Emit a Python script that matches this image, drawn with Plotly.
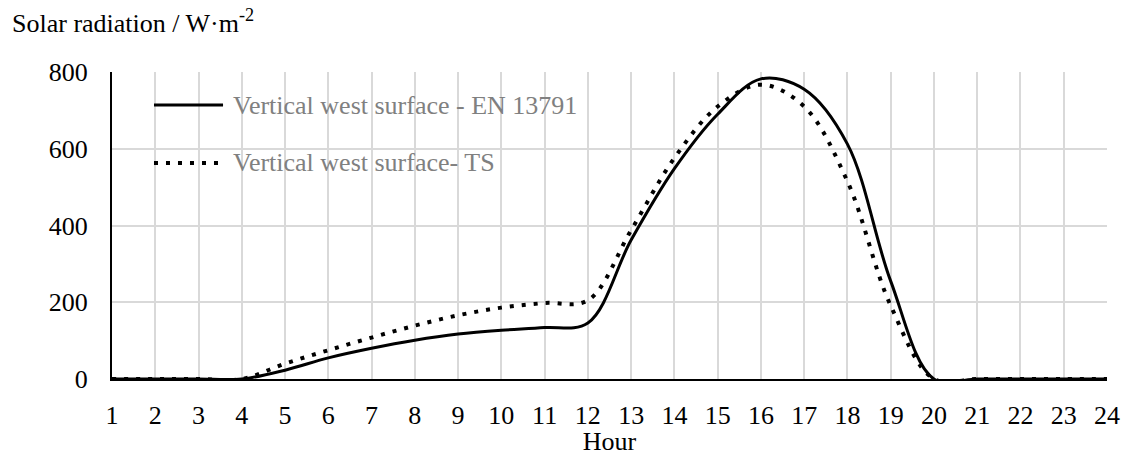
import plotly.graph_objects as go

hours = list(range(1, 25))
en13791 = [0, 0, 0, 0, 23, 55, 80, 101, 117, 127, 134, 146, 362, 548, 690, 782, 755, 612, 255, 0, 0, 0, 0, 0]
ts = [0, 0, 0, 0, 40, 75, 108, 139, 166, 186, 198, 205, 388, 576, 710, 767, 710, 515, 191, 0, 0, 0, 0, 0]
y_ticks = [0, 200, 400, 600, 800]
series_names = ["Vertical west surface - EN 13791", "Vertical west surface- TS"]

FONT = "Liberation Serif"
FS = 26
LEG_GRAY = "#808080"

fig = go.Figure()
fig.add_trace(go.Scatter(
    x=hours, y=en13791, mode="lines", name=series_names[0],
    line=dict(color="black", width=3, shape="spline", smoothing=1.0),
    showlegend=False,
))
fig.add_trace(go.Scatter(
    x=hours, y=ts, mode="lines", name=series_names[1],
    line=dict(color="black", width=4, shape="spline", smoothing=1.0, dash="4px,8px"),
    showlegend=False,
))

# Legend drawn in the Excel style (long line samples, grey labels)
leg_rows = [(0.8925, dict(color="black", width=3)),
            (0.7036, dict(color="black", width=4, dash="4px,8px"))]
shapes = []
annotations = []
for (ly, lstyle), name in zip(leg_rows, series_names):
    shapes.append(dict(type="line", xref="paper", yref="paper",
                       x0=0.0422, x1=0.1116, y0=ly, y1=ly, line=lstyle))
    annotations.append(dict(text=name, xref="paper", yref="paper", x=0.1196, y=ly,
                            xanchor="left", yanchor="middle", showarrow=False,
                            font=dict(family=FONT, size=FS, color=LEG_GRAY)))

annotations.append(dict(
    text="Solar radiation / W·m<sup>-2</sup>",
    xref="paper", yref="paper", x=-0.1025, y=1.165, xanchor="left", yanchor="middle",
    showarrow=False, font=dict(family=FONT, size=FS, color="black"),
))

fig.update_layout(
    width=1121, height=456,
    margin=dict(l=112, r=14, t=72, b=77, autoexpand=False),
    plot_bgcolor="white", paper_bgcolor="white",
    font=dict(family=FONT, size=FS, color="black"),
    showlegend=False,
    xaxis=dict(
        range=[1, 24], tickmode="array", tickvals=hours, ticktext=[str(h) for h in hours],
        showgrid=True, gridcolor="#d9d9d9", gridwidth=1.5,
        showline=True, linecolor="black", linewidth=2,
        zeroline=False, ticks="", ticklabelstandoff=12, automargin=False,
        tickfont=dict(family=FONT, size=FS),
        title=dict(text="Hour", font=dict(family=FONT, size=FS), standoff=0),
    ),
    yaxis=dict(
        range=[0, 800], tickmode="array", tickvals=y_ticks,
        showgrid=True, gridcolor="#d9d9d9", gridwidth=1.5,
        showline=True, linecolor="black", linewidth=2,
        zeroline=False, ticks="", ticklabelstandoff=17, automargin=False,
        tickfont=dict(family=FONT, size=FS),
    ),
    shapes=shapes,
    annotations=annotations,
)

fig.write_html("out.html")
